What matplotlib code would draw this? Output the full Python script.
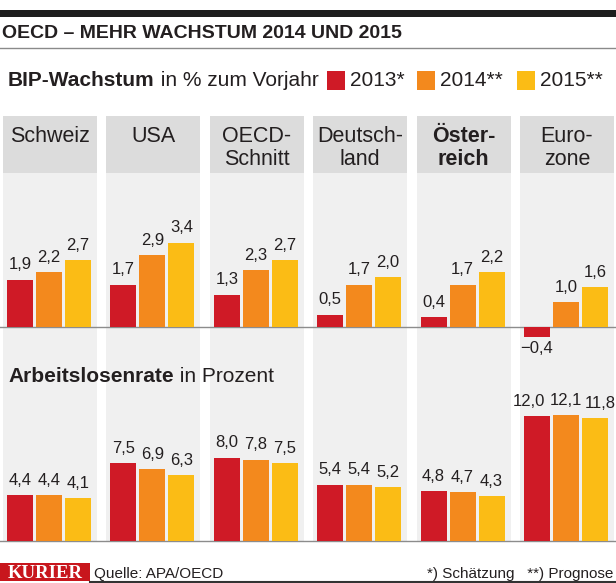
import matplotlib.pyplot as plt
from matplotlib.patches import Rectangle
import numpy as np

plt.rcParams['font.family'] = ['Liberation Sans', 'DejaVu Sans']

regions = ["Schweiz", "USA", "OECD-\nSchnitt", "Deutsch-\nland", "Öster-\nreich", "Euro-\nzone"]
years = ["2013*", "2014**", "2015**"]
gdp_2013 = [1.9, 1.7, 1.3, 0.5, 0.4, -0.4]
gdp_2014 = [2.2, 2.9, 2.3, 1.7, 1.7, 1.0]
gdp_2015 = [2.7, 3.4, 2.7, 2.0, 2.2, 1.6]
jobless_2013 = [4.4, 7.5, 8.0, 5.4, 4.8, 12.0]
jobless_2014 = [4.4, 6.9, 7.8, 5.4, 4.7, 12.1]
jobless_2015 = [4.1, 6.3, 7.5, 5.2, 4.3, 11.8]

colors = ['#cf1a26', '#f3891d', '#fbbc15']
txt = '#231f20'
W, H = 616, 583
pitch = 103.4     # column pitch in pixels
col_w = 94

fig = plt.figure(figsize=(W / 100, H / 100), dpi=100)

# decoration layer in pixel coordinates
bg = fig.add_axes([0, 0, 1, 1])
bg.set_xlim(0, W)
bg.set_ylim(H, 0)
bg.axis('off')

bg.add_patch(Rectangle((0, 10), W, 7, color='#1e1e1e', lw=0))
bg.plot([0, W], [48, 48], color='#8a8a8a', lw=1)
bg.text(2, 38.5, "OECD – MEHR WACHSTUM 2014 UND 2015", fontsize=14,
        fontweight='bold', color=txt, va='baseline')

# legend row
t = bg.text(8, 85.5, "BIP-Wachstum", fontsize=15, fontweight='bold',
            color=txt, va='baseline')
bg.annotate(" in % zum Vorjahr", xycoords=t, xy=(1, 0), va='bottom',
            fontsize=15, color=txt)
for x0, c, lab in zip([327, 417, 517], colors, years):
    bg.add_patch(Rectangle((x0, 71), 18, 19, color=c, lw=0))
    bg.text(x0 + 23, 85.5, lab, fontsize=15, color=txt, va='baseline')

# column panels and headers
for i, name in enumerate(regions):
    left = 3 + pitch * i
    bg.add_patch(Rectangle((left, 116), col_w, 57, color='#dcdcdc', lw=0))
    bg.add_patch(Rectangle((left, 173), col_w, 368, color='#f0f0f0', lw=0))
    weight = 'bold' if name.startswith('Öster') else 'normal'
    for k, line in enumerate(name.split('\n')):
        bg.text(left + col_w / 2, 142 + 23 * k, line, fontsize=15.5, color=txt,
                ha='center', va='baseline', fontweight=weight)

t = bg.text(8, 382, "Arbeitslosenrate", fontsize=15, fontweight='bold',
            color=txt, va='baseline')
bg.annotate(" in Prozent", xycoords=t, xy=(1, 0), va='bottom',
            fontsize=15, color=txt)

# footer
bg.add_patch(Rectangle((0, 563), 90, 18, color='#c8161d', lw=0))
bg.text(45, 578.5, "KURIER", family='Liberation Serif', fontsize=13.5,
        fontweight='bold', color='white', ha='center', va='baseline')
bg.text(94, 578, "Quelle: APA/OECD", fontsize=11, color=txt, va='baseline')
bg.text(613, 578, "*) Schätzung   **) Prognose", fontsize=11, color=txt,
        ha='right', va='baseline')
bg.plot([90, W], [582, 582], color='#333333', lw=1.5)

x = np.arange(len(regions))
offsets = np.array([-29, 0, 29]) / pitch
bar_w = 26 / pitch
xlim = ((0 - 50) / pitch, (W - 50) / pitch)


def panel(top, bottom, base, ppu, series, nudge=None):
    ax = fig.add_axes([0, 1 - bottom / H, 1, (bottom - top) / H])
    ax.set_xlim(*xlim)
    ax.set_ylim(-(bottom - base) / ppu, (base - top) / ppu)
    ax.axis('off')
    ax.patch.set_alpha(0)
    ax.axhline(0, color='#8c8c8c', lw=1, zorder=1)
    for j, (off, c, vals) in enumerate(zip(offsets, colors, series)):
        bars = ax.bar(x + off - 0.01, vals, width=bar_w, color=c, zorder=2)
        for i, (b, v) in enumerate(zip(bars, vals)):
            lab = f"{v:.1f}".replace('.', ',').replace('-', '−')
            cx = b.get_x() + b.get_width() / 2
            dx = nudge.get((i, j), 0) if nudge else 0
            if v >= 0:
                ax.annotate(lab, (cx, v), xytext=(dx, 7.5), textcoords='offset points',
                            ha='center', va='baseline', fontsize=12, color=txt)
            else:
                ax.annotate(lab, (cx, v), xytext=(dx, -3), textcoords='offset points',
                            ha='center', va='top', fontsize=12, color=txt)
    return ax


panel(173, 360, 327, 24.8, [gdp_2013, gdp_2014, gdp_2015])
# Eurozone labels are wide, spread them a little like the original
panel(390, 545, 541, 10.4, [jobless_2013, jobless_2014, jobless_2015],
      nudge={(5, 0): -5.5, (5, 2): 3.5})

fig.savefig('out.png', dpi=100)
